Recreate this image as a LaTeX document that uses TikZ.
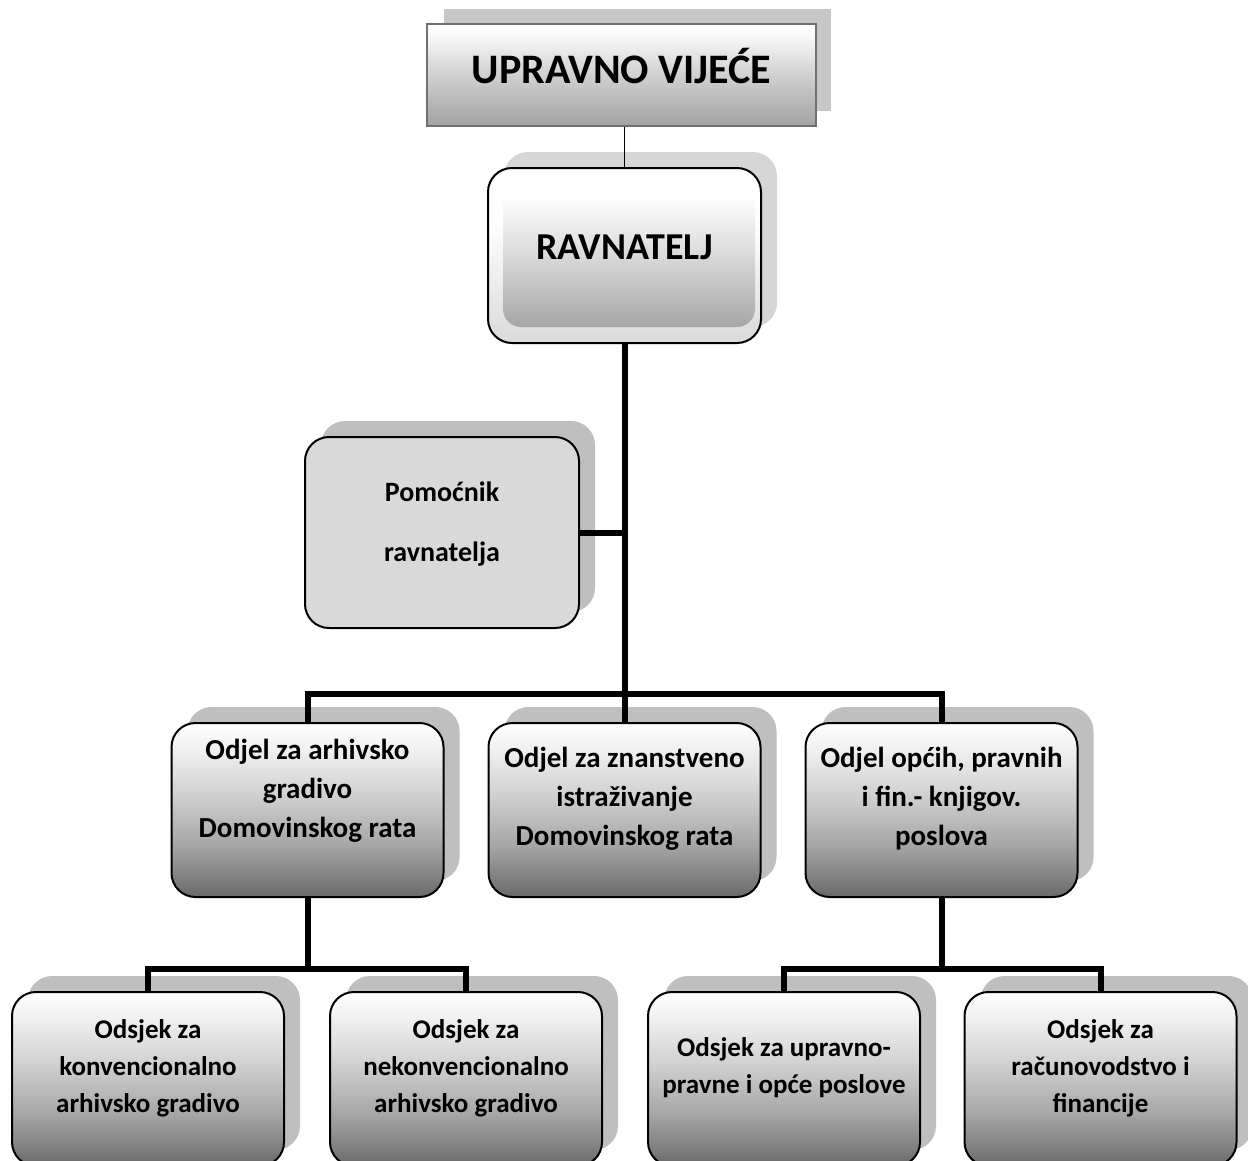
\documentclass[tikz,border=0pt]{standalone}
\usepackage{fontspec}
\setmainfont{Carlito}
\definecolor{bA}{HTML}{6A6A6A}
\definecolor{bB}{HTML}{A6A6A6}
\definecolor{bC}{HTML}{D2D2D2}
\definecolor{bD}{HTML}{EFEFEF}
\definecolor{tA}{HTML}{A2A2A2}
\definecolor{tB}{HTML}{D0D0D0}
\definecolor{tC}{HTML}{FAFAFA}
\definecolor{rA}{HTML}{A6A6A6}
\definecolor{rB}{HTML}{DADADA}
\definecolor{pomfill}{HTML}{D9D9D9}
\definecolor{topborder}{HTML}{707070}
\pgfdeclareverticalshading{boxsh}{100bp}{color(0bp)=(bA); color(25bp)=(bA); color(40bp)=(bB); color(55bp)=(bC); color(67bp)=(bD); color(75bp)=(white); color(100bp)=(white)}
\pgfdeclareverticalshading{topsh}{100bp}{color(0bp)=(tA); color(25bp)=(tA); color(50bp)=(tB); color(70bp)=(tC); color(75bp)=(white); color(100bp)=(white)}
\pgfdeclareverticalshading{ravout}{100bp}{color(0bp)=(rB); color(25bp)=(rB); color(60bp)=(white); color(100bp)=(white)}
\pgfdeclareverticalshading{ravin}{100bp}{color(0bp)=(rA); color(25bp)=(rA); color(50bp)=(rB); color(70bp)=(white); color(100bp)=(white)}
\pgfdeclarelayer{connlayer}
\pgfdeclarelayer{shadowlayer}
\pgfsetlayers{connlayer,shadowlayer,main}
\tikzset{
  every node/.style={inner sep=0pt, outer sep=0pt},
  rbox/.style={draw=black, line width=2pt, rounded corners=24pt, shading=boxsh, minimum width=272pt, minimum height=174pt},
  topbox/.style={draw=topborder, line width=2pt, shading=topsh, minimum width=389pt, minimum height=102pt},
  ravbox/.style={draw=black, line width=2pt, rounded corners=24pt, shading=ravout, minimum width=273pt, minimum height=175pt},
  pombox/.style={draw=black, line width=2pt, rounded corners=24pt, fill=pomfill, minimum width=274pt, minimum height=191pt},
  midtxt/.style={align=center, font=\bfseries\fontsize{29}{39}\selectfont},
  bottxt/.style={align=center, font=\bfseries\fontsize{27}{37}\selectfont},
  pomtxt/.style={align=center, font=\bfseries\fontsize{28}{60}\selectfont},
  conn/.style={line width=6pt, line join=miter, draw=black},
  thinconn/.style={line width=1.5pt, draw=black},
  shadowfill/.style={fill=black, fill opacity=0.25},
  lightshadow/.style={fill=black, fill opacity=0.16},
}
\newcommand{\rshadow}[2][shadowfill]{%
  \fill[#1, rounded corners=24pt] ([xshift=16pt,yshift=16pt]#2.south west) rectangle ([xshift=16pt,yshift=16pt]#2.north east);}
\begin{document}
\begin{tikzpicture}[x=1pt,y=-1pt]
\useasboundingbox (0,0) rectangle (1248,1160);

% boxes
\node[topbox] (uv) at (621.5,75) {};
\node[font=\bfseries\fontsize{42}{50}\selectfont] (uvt) at (621.5,66) {UPRAVNO VIJEĆE};

\node[ravbox] (rav) at (624.5,255.5) {};
\shade[shading=ravin, rounded corners=18pt] ([xshift=15pt,yshift=16pt]rav.south west) rectangle ([xshift=-6pt,yshift=-14pt]rav.north east);
\node[font=\bfseries\fontsize{38}{44}\selectfont] (ravt) at (624.5,247) {RAVNATELJ};

\node[pombox] (pom) at (442,532.5) {};
\node[pomtxt] (pomt) at (442,524) {Pomoćnik\\ravnatelja};

\node[rbox] (od1) at (307.5,810) {};
\node[midtxt] (od1t) at (307.5,791) {Odjel za arhivsko\\gradivo\\Domovinskog rata};
\node[rbox] (od2) at (624.5,810) {};
\node[midtxt] (od2t) at (624.5,799) {Odjel za znanstveno\\istraživanje\\Domovinskog rata};
\node[rbox] (od3) at (941.5,810) {};
\node[midtxt] (od3t) at (941.5,799) {Odjel općih, pravnih\\i fin.- knjigov.\\poslova};

\node[rbox] (os1) at (148,1079) {};
\node[bottxt] (os1t) at (148,1068) {Odsjek za\\konvencionalno\\arhivsko gradivo};
\node[rbox] (os2) at (466,1079) {};
\node[bottxt] (os2t) at (466,1068) {Odsjek za\\nekonvencionalno\\arhivsko gradivo};
\node[rbox] (os3) at (784,1079) {};
\node[bottxt] (os3t) at (784,1068) {Odsjek za upravno-\\pravne i opće poslove};
\node[rbox] (os4) at (1100.5,1079) {};
\node[bottxt] (os4t) at (1100.5,1068) {Odsjek za\\računovodstvo i\\financije};

\coordinate (j1) at (624.5,694);
\coordinate (j2) at (307.5,969);
\coordinate (j3) at (941.5,969);

\begin{pgfonlayer}{shadowlayer}
  \fill[black, fill opacity=0.22] ([xshift=17pt,yshift=15pt]uv.south west) rectangle ([xshift=15pt,yshift=15pt]uv.north east);
  \rshadow[lightshadow]{rav}
  \rshadow{pom}
  \rshadow{od1}\rshadow{od2}\rshadow{od3}
  \rshadow{os1}\rshadow{os2}\rshadow{os3}\rshadow{os4}
\end{pgfonlayer}

\begin{pgfonlayer}{connlayer}
  \draw[thinconn] (uv.south -| rav.north) -- (rav.north);
  \draw[conn] (rav.south) -- (od2.north);
  \draw[conn] (pom.east) -- (pom.east -| rav.south);
  \draw[conn] (od1.north) |- (j1) -| (od3.north);
  \draw[conn] (od1.south) -- (od1.south |- j2);
  \draw[conn] (os1.north) |- (j2) -| (os2.north);
  \draw[conn] (od3.south) -- (od3.south |- j3);
  \draw[conn] (os3.north) |- (j3) -| (os4.north);
\end{pgfonlayer}
\end{tikzpicture}
\end{document}
